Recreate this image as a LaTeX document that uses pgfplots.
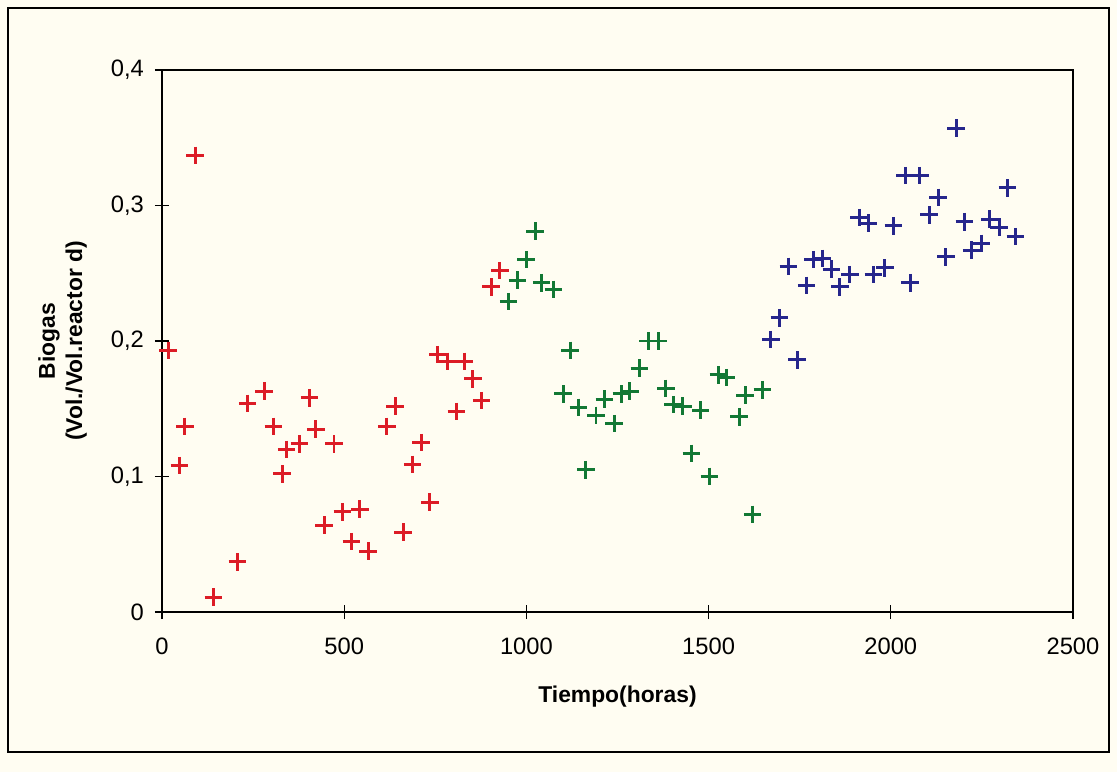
\documentclass[border=0pt]{standalone}
\usepackage{fontspec}
\setmainfont{Liberation Sans}
\usepackage{pgfplots}
\pgfplotsset{compat=1.18}
\definecolor{paper}{RGB}{255,253,242}
\definecolor{ptred}{RGB}{220,28,38}
\definecolor{ptgreen}{RGB}{18,120,52}
\definecolor{ptblue}{RGB}{38,38,140}
\pgfplotsset{pt/.style={only marks,mark=+,mark size=5pt,mark options={line width=1.7pt}}}
\begin{document}
\begin{tikzpicture}
% page of 1117x772 px, 1 px = 0.02 cm
\fill[paper] (0,0) rectangle (22.34,15.44);
\draw[line width=0.9pt] (0.16,0.4) rectangle (22.18,15.28);
\begin{axis}[
  at={(3.24cm,3.2cm)},anchor=south west,
  scale only axis,width=18.22cm,height=10.84cm,
  xmin=0,xmax=2500,ymin=0,ymax=0.4,
  xtick={0,500,1000,1500,2000,2500},
  ytick={0,0.1,0.2,0.3,0.4},
  xtick pos=bottom,ytick pos=left,
  tick align=center,major tick length=0.28cm,
  axis line style={line width=0.8pt},
  every tick/.style={black,line width=0.7pt},
  /pgf/number format/assume math mode=true,
  /pgf/number format/use comma,
  /pgf/number format/1000 sep={},
  tick label style={font=\fontsize{13.5}{16}\selectfont},
  xticklabel style={yshift=-0.25cm},
  yticklabel style={xshift=-0.1cm},
  xlabel={\textbf{Tiempo(horas)}},
  ylabel={\textbf{Biogas}\\\textbf{(Vol./Vol.reactor d)}},
  label style={font=\fontsize{13}{15.5}\selectfont},
  xlabel style={at={(axis description cs:0.5,-0.157)},anchor=center},
  ylabel style={at={(axis description cs:-0.109,0.5)},anchor=center,align=center},
]
\addplot[pt,ptred] coordinates {
(17,0.193) (48,0.108) (63,0.137) (91,0.337) (141,0.011) (207,0.037)
(235,0.154) (280,0.163) (306,0.137) (330,0.102) (342,0.120) (377,0.124)
(405,0.158) (422,0.135) (445,0.064) (472,0.124) (495,0.074) (520,0.052)
(543,0.076) (566,0.045) (617,0.137) (640,0.152) (662,0.059) (688,0.109)
(711,0.125) (735,0.081) (757,0.190) (783,0.185) (808,0.148) (830,0.185)
(853,0.172) (877,0.156) (903,0.240) (927,0.252)
};
\addplot[pt,ptgreen] coordinates {
(951,0.229) (975,0.245) (999,0.260) (1024,0.281) (1042,0.243) (1074,0.238)
(1101,0.161) (1120,0.193) (1143,0.151) (1163,0.105) (1191,0.145) (1214,0.157)
(1241,0.139) (1261,0.161) (1284,0.163) (1310,0.180) (1334,0.200) (1362,0.200)
(1383,0.165) (1403,0.153) (1429,0.152) (1453,0.117) (1478,0.149) (1502,0.100)
(1527,0.175) (1548,0.173) (1584,0.144) (1600,0.160) (1621,0.072) (1648,0.164)
};
\addplot[pt,ptblue] coordinates {
(1671,0.201) (1694,0.217) (1719,0.255) (1743,0.186) (1769,0.241) (1787,0.260)
(1813,0.261) (1837,0.253) (1860,0.240) (1888,0.249) (1913,0.291) (1938,0.287)
(1952,0.249) (1984,0.254) (2007,0.285) (2039,0.322) (2053,0.243) (2080,0.322)
(2105,0.293) (2130,0.306) (2151,0.262) (2179,0.357) (2202,0.288) (2222,0.267)
(2249,0.272) (2272,0.290) (2297,0.284) (2320,0.313) (2342,0.277)
};
\end{axis}
\end{tikzpicture}
\end{document}
